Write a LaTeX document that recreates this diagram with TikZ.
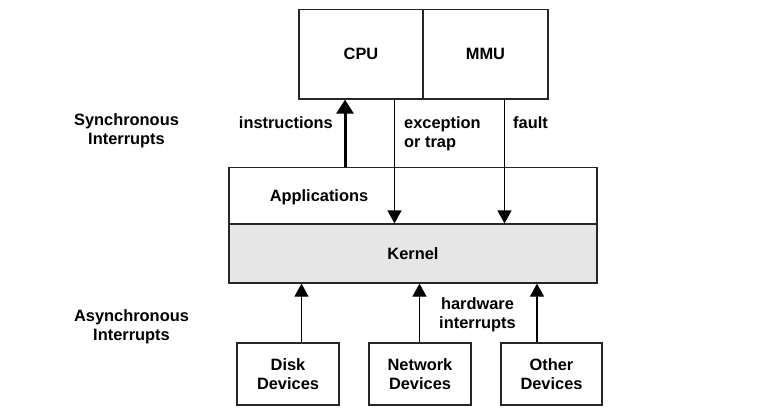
\documentclass[tikz,border=0pt]{standalone}
\usepackage{fontspec}
\setmainfont{Liberation Sans}
\usetikzlibrary{arrows.meta}
\definecolor{kgray}{HTML}{E6E6E6}
\begin{document}
\begin{tikzpicture}[x=1pt,y=-1pt,
  every node/.style={font=\fontsize{16.4}{19}\selectfont\bfseries},
  box/.style={draw=black!85,line width=1.2pt,inner sep=0pt,align=center},
  lbl/.style={inner sep=0pt,align=center,anchor=base},
  thinarr/.style={line width=1.2pt,-{Triangle[width=14pt,length=13pt]}},
  thickarr/.style={line width=3pt,-{Triangle[width=17pt,length=14pt]}}]
\useasboundingbox (0,0) rectangle (776,413);
% top boxes
\node[box,minimum width=124pt,minimum height=89.5pt] (cpu) at (361,54.25) {CPU};
\node[box,minimum width=125pt,minimum height=89.5pt] (mmu) at (485.5,54.25) {MMU};
% applications / kernel
\node[box,minimum width=368pt,minimum height=56.5pt] (apps) at (413,195.75) {};
\node[box,fill=kgray,minimum width=368pt,minimum height=59pt] (kernel) at (413,253.5) {Kernel};
\node[lbl] (applbl) at (319,201) {Applications};
% devices
\node[box,minimum width=102pt,minimum height=62pt] (disk) at (288,374) {Disk\\Devices};
\node[box,minimum width=102pt,minimum height=62pt] (net) at (420,374) {Network\\Devices};
\node[box,minimum width=101pt,minimum height=62pt] (other) at (551.5,374) {Other\\Devices};
% side labels (base = last line)
\node[lbl] (sync) at (126.5,144.7) {Synchronous\\Interrupts};
\node[lbl] (async) at (131.5,340.3) {Asynchronous\\Interrupts};
% arrow labels
\node[lbl,anchor=base east] (instr) at (333,128) {instructions};
\node[lbl,anchor=base west,align=left] (exc) at (404,147) {exception\\or trap};
\node[lbl,anchor=base west] (fault) at (513,128) {fault};
\node[lbl] (hw) at (477.5,328.7) {hardware\\interrupts};
% arrow x positions
\coordinate (xi) at (345,0);
\coordinate (xe) at (394.5,0);
\coordinate (xf) at (504.5,0);
\coordinate (xd) at (301.5,0);
\coordinate (xn) at (419.5,0);
\coordinate (xo) at (537,0);
% arrows
\draw[thickarr] (xi |- apps.north) -- (xi |- cpu.south);
\draw[thinarr] (xe |- cpu.south) -- (xe |- kernel.north);
\draw[thinarr] (xf |- mmu.south) -- (xf |- kernel.north);
\draw[thinarr] (xd |- disk.north) -- (xd |- kernel.south);
\draw[thinarr] (xn |- net.north) -- (xn |- kernel.south);
\draw[thinarr] (xo |- other.north) -- (xo |- kernel.south);
\end{tikzpicture}
\end{document}
